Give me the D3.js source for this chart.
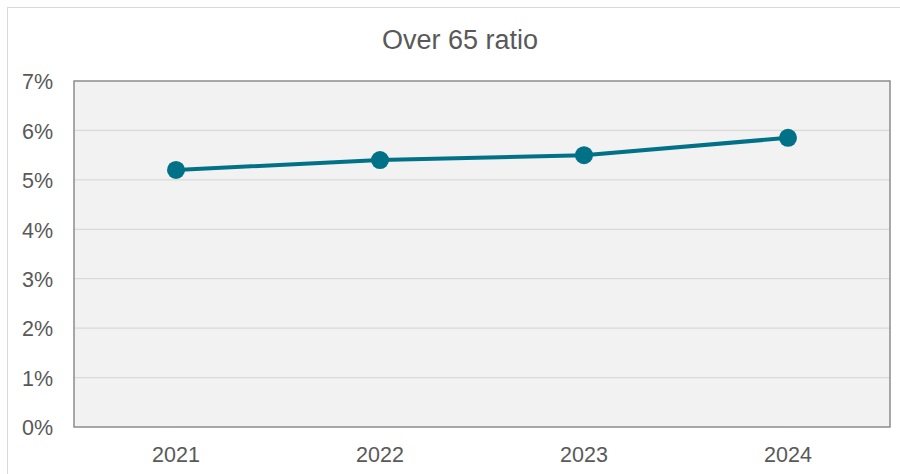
<!DOCTYPE html>
<html>
<head>
<meta charset="utf-8">
<script src="https://cdn.jsdelivr.net/npm/d3@7"></script>
<style>
  body { margin: 0; background: #fff; }
  text { font-family: "Liberation Sans", Arial, sans-serif; fill: #595959; }
</style>
</head>
<body>
<script>
// chart data
var years = ["2021", "2022", "2023", "2024"];
var ratios = [5.2, 5.4, 5.5, 5.85];
var yTicks = [0, 1, 2, 3, 4, 5, 6, 7];
var chartTitle = "Over 65 ratio";

var w = 900, h = 474;
var plotLeft = 74, plotRight = 890, plotTop = 81, plotBottom = 427;

var svg = d3.select("body")
	.append("svg")
	.attr("width", w)
	.attr("height", h);

// outer chart frame
svg.append("rect")
	.attr("x", 7.5).attr("y", 7.5)
	.attr("width", w).attr("height", h)
	.attr("fill", "#fff")
	.attr("stroke", "#d9d9d9")
	.attr("stroke-width", 1);

var x = d3.scaleBand()
	.domain(years)
	.range([plotLeft, plotRight]);

var y = d3.scaleLinear()
	.domain([0, 7])
	.range([plotBottom, plotTop]);

// plot background
svg.append("rect")
	.attr("x", plotLeft).attr("y", plotTop)
	.attr("width", plotRight - plotLeft)
	.attr("height", plotBottom - plotTop)
	.attr("fill", "#f2f2f2");

// gridlines
svg.append("g")
	.selectAll("line")
	.data(yTicks.slice(1, -1))
	.enter()
	.append("line")
	.attr("x1", plotLeft).attr("x2", plotRight)
	.attr("y1", function(d) { return y(d); })
	.attr("y2", function(d) { return y(d); })
	.attr("stroke", "#d9d9d9")
	.attr("stroke-width", 1.3);

// plot border
svg.append("rect")
	.attr("x", plotLeft).attr("y", plotTop)
	.attr("width", plotRight - plotLeft)
	.attr("height", plotBottom - plotTop)
	.attr("fill", "none")
	.attr("stroke", "#8c8c8c")
	.attr("stroke-width", 1.5);

// y axis
var yAxis = svg.append("g")
	.attr("transform", "translate(" + (plotLeft - 21) + ",0)")
	.call(d3.axisLeft(y).tickValues(yTicks).tickSize(0).tickPadding(0)
		.tickFormat(function(d) { return d + "%"; }));
yAxis.select(".domain").remove();
yAxis.selectAll("text")
	.attr("font-size", "21.5px")
	.attr("dy", "0.36em")
	.style("font-family", "Liberation Sans, Arial, sans-serif")
	.attr("fill", "#595959");

// x axis
var xAxis = svg.append("g")
	.attr("transform", "translate(0," + plotBottom + ")")
	.call(d3.axisBottom(x).tickSize(0).tickPadding(0));
xAxis.select(".domain").remove();
xAxis.selectAll("text")
	.attr("font-size", "21.5px")
	.attr("y", 35)
	.attr("dy", 0)
	.style("font-family", "Liberation Sans, Arial, sans-serif")
	.attr("fill", "#595959");

// title
svg.append("text")
	.attr("x", 460)
	.attr("y", 49)
	.attr("text-anchor", "middle")
	.attr("font-size", "27px")
	.text(chartTitle);

// line + markers
var line = d3.line()
	.x(function(d, i) { return x(years[i]) + x.bandwidth() / 2; })
	.y(function(d) { return y(d); });

svg.append("path")
	.datum(ratios)
	.attr("d", line)
	.attr("fill", "none")
	.attr("stroke", "#007186")
	.attr("stroke-width", 4);

svg.append("g")
	.selectAll("circle")
	.data(ratios)
	.enter()
	.append("circle")
	.attr("cx", function(d, i) { return x(years[i]) + x.bandwidth() / 2; })
	.attr("cy", function(d) { return y(d); })
	.attr("r", 9)
	.attr("fill", "#007186");
</script>
</body>
</html>
